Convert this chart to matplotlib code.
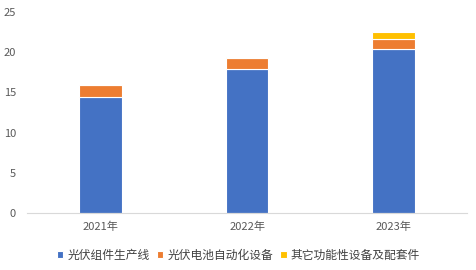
import matplotlib.pyplot as plt
import numpy as np

plt.rcParams['font.family'] = ['Noto Sans CJK SC', 'DejaVu Sans']

years = ["2021年", "2022年", "2023年"]
modules = [14.4, 17.9, 20.4]
cells = [1.5, 1.4, 1.2]
others = [0.0, 0.15, 0.9]
series_names = ["光伏组件生产线", "光伏电池自动化设备", "其它功能性设备及配套件"]
colors = ["#4472C4", "#ED7D31", "#FFC000"]

fig = plt.figure(figsize=(4.77, 2.70), dpi=100)
ax = fig.add_axes([0.057, 0.211, 0.922, 0.745])

x = np.arange(len(years))
w = 0.29
bottom = np.zeros(len(years))
for vals, name, c in zip([modules, cells, others], series_names, colors):
    ax.bar(x, vals, w, bottom=bottom, color=c, label=name,
           edgecolor="white", linewidth=0.8)
    bottom += np.array(vals)

ax.set_xlim(-0.5, 2.5)
ax.set_ylim(0, 25)
ax.set_yticks([0, 5, 10, 15, 20, 25])
ax.set_xticks(x)
ax.set_xticklabels(years)

for s in ["top", "right", "left"]:
    ax.spines[s].set_visible(False)
ax.spines["bottom"].set_color("#D9D9D9")
ax.tick_params(axis="both", length=0, labelsize=8, labelcolor="#595959")
ax.tick_params(axis="x", pad=6)
ax.tick_params(axis="y", pad=8)

leg = fig.legend(loc="center", bbox_to_anchor=(0.5, 0.055), ncol=3, frameon=False,
                 fontsize=8.5, handlelength=0.55, handleheight=0.55,
                 handletextpad=0.35, columnspacing=0.6)
for t in leg.get_texts():
    t.set_color("#404040")

fig.savefig("out.png", dpi=100)
